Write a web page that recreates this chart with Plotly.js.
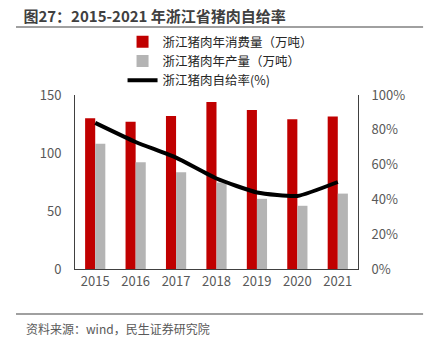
<!DOCTYPE html>
<html><head><meta charset="utf-8">
<script src="https://cdn.plot.ly/plotly-3.0.1.min.js"></script>
<style>html,body{margin:0;padding:0;background:#fff}</style>
</head><body><div id="chart" style="width:425px;height:340px"></div>
<script>
const years = ['2015','2016','2017','2018','2019','2020','2021'];
const consumption = [130, 127, 132, 144, 137, 129, 131.5];
const production = [108, 92, 83.5, 74.5, 60.5, 54.5, 65];
const selfRate = [84, 73, 64, 52, 44, 42, 50];
const seriesNames = ['浙江猪肉年消费量（万吨）', '浙江猪肉年产量（万吨）', '浙江猪肉自给率(%)'];
const leftTicks = [0, 50, 100, 150];
const rightTicks = [0, 20, 40, 60, 80, 100];

const FONT = '"Noto Sans CJK SC", "Noto Sans", sans-serif';
const traces = [
  {type:'bar', x:years, y:consumption, name:seriesNames[0], marker:{color:'#C00000'}, yaxis:'y'},
  {type:'bar', x:years, y:production, name:seriesNames[1], marker:{color:'#B4B4B4'}, yaxis:'y'},
  {type:'scatter', mode:'lines', x:years, y:selfRate, name:seriesNames[2], yaxis:'y2',
   line:{color:'#000', width:4, shape:'spline', smoothing:0.5}}
];
const layout = {
  width:425, height:340,
  margin:{l:75, r:67, t:95, b:71},
  paper_bgcolor:'#fff', plot_bgcolor:'#fff',
  font:{family:FONT, size:13, color:'#595959'},
  title:{text:'<b>图27：2015-2021 年浙江省猪肉自给率</b>', x:0.055, xanchor:'left', y:0.95, yanchor:'middle',
    font:{family:FONT, size:15, color:'#404040'}},
  barmode:'group', bargap:0.5, bargroupgap:0,
  showlegend:true,
  legend:{x:0.168, xanchor:'left', y:1.39, yanchor:'top', orientation:'v', traceorder:'normal',
    font:{family:FONT, size:12.5, color:'#262626'}, bgcolor:'rgba(0,0,0,0)', tracegroupgap:0, itemwidth:30},
  xaxis:{type:'category', showline:true, linecolor:'#404040', linewidth:1, ticks:'', showgrid:false,
    tickfont:{size:13, color:'#595959'}},
  yaxis:{range:[0,150], tickvals:leftTicks, ticktext:leftTicks.map(String), showgrid:false, zeroline:false,
    showline:true, linecolor:'#404040', linewidth:1, ticks:'', tickfont:{size:13, color:'#595959'}, ticklabelstandoff:10},
  yaxis2:{overlaying:'y', side:'right', range:[0,100], tickvals:rightTicks, ticktext:rightTicks.map(v=>v+'%'),
    showgrid:false, zeroline:false, showline:true, linecolor:'#404040', linewidth:1, ticks:'',
    tickfont:{size:13, color:'#595959'}, ticklabelstandoff:10},
  shapes:[
    {type:'line', xref:'paper', yref:'paper', x0:-0.2085, x1:1.23, y0:1.391, y1:1.391, line:{color:'#808080', width:1.5}},
    {type:'line', xref:'paper', yref:'paper', x0:-0.2085, x1:1.23, y0:-0.259, y1:-0.259, line:{color:'#808080', width:1.5}}
  ],
  annotations:[
    {text:'资料来源：wind，民生证券研究院', xref:'paper', yref:'paper', x:-0.18, xanchor:'left', y:-0.34, yanchor:'middle',
     showarrow:false, font:{family:FONT, size:12, color:'#595959'}}
  ]
};
Plotly.newPlot('chart', traces, layout, {displayModeBar:false, staticPlot:true});
</script></body></html>
